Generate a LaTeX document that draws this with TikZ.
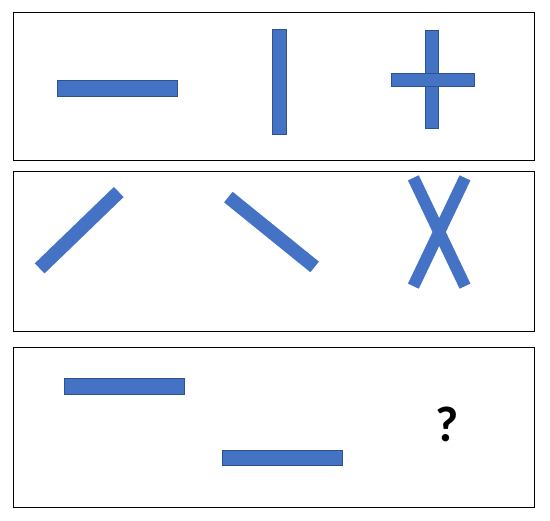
\documentclass[tikz,border=0pt]{standalone}
\usepackage{fontspec}
\setmainfont{Carlito}
\definecolor{barblue}{HTML}{4472C4}
\definecolor{baredge}{HTML}{2F528F}
\begin{document}
\begin{tikzpicture}[x=1pt,y=-1pt,
    bar/.style={fill=barblue,draw=baredge,line width=0.6pt},
    tiltbar/.style={fill=barblue},
    panel/.style={draw=black,line width=1pt}]
    \useasboundingbox (0,0) rectangle (550,521);
    % panels
    \draw[panel] (13,13) rectangle (534,161);
    \draw[panel] (13,172) rectangle (534,332);
    \draw[panel] (13,348) rectangle (534,508);
    % first row
    \draw[bar] (57.5,80) rectangle (177.5,96);
    \draw[bar] (272,29) rectangle (286.5,134);
    \draw[bar] (425.5,30.5) rectangle (438.5,128);
    \draw[bar] (391,73) rectangle (474,86);
    % second row
    \fill[tiltbar,rotate around={44:(79.2,230.2)}] (24.2,223.2) rectangle (134.2,237.2);
    \fill[tiltbar,rotate around={-39:(271.5,232)}] (216,225.2) rectangle (327,238.8);
    \fill[tiltbar,rotate around={-64.5:(439.2,232)}] (379.2,226) rectangle (499.2,238);
    \fill[tiltbar,rotate around={-115.5:(439.2,232)}] (379.2,226) rectangle (499.2,238);
    % third row
    \draw[bar] (64,378) rectangle (184.5,394.5);
    \draw[bar] (222.5,450) rectangle (342.5,465.5);
    \node[font=\bfseries\fontsize{50}{50}\selectfont,inner sep=0pt] (ask) at (447.5,424) {?};
\end{tikzpicture}
\end{document}
